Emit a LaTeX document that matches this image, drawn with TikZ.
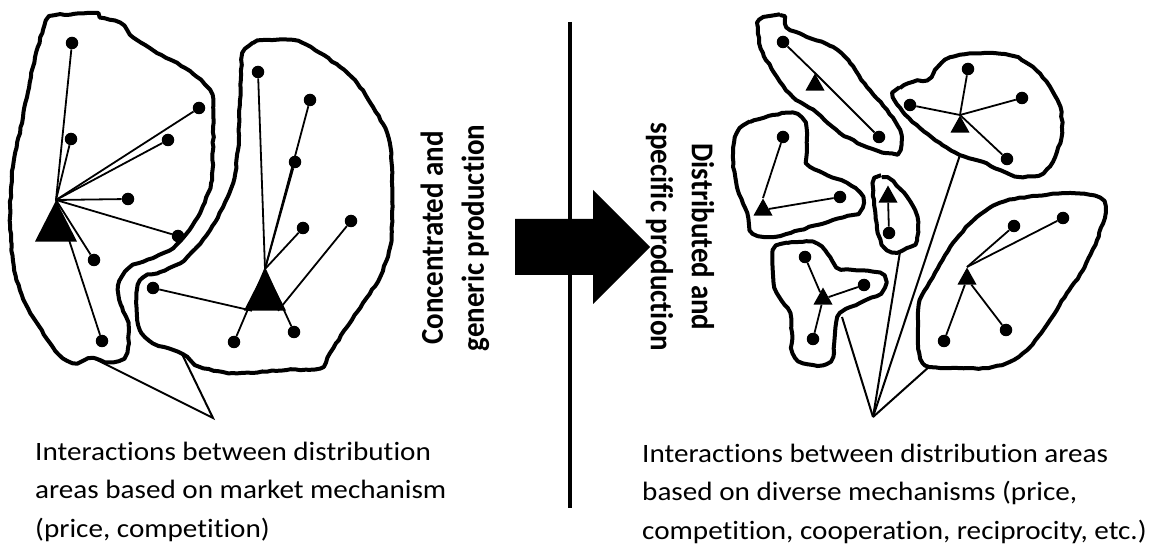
\documentclass[tikz,border=0pt]{standalone}
\usepackage{fontspec}
\setmainfont{Carlito}[FakeStretch=1.1, Ligatures=NoCommon]
\newfontfamily\vertfont{Carlito}[FakeStretch=0.91, Ligatures=NoCommon]
\usetikzlibrary{shapes.geometric, decorations.pathmorphing}

\begin{document}
\begin{tikzpicture}[
  x=1pt, y=-1pt,
  area/.style={line width=4pt, line join=round, decorate, decoration={random steps, segment length=5pt, amplitude=0.6pt}},
  dotnode/.style={circle, fill, inner sep=0pt, minimum size=12.5pt},
  bigtri/.style={isosceles triangle, isosceles triangle stretches, shape border rotate=90, fill, inner sep=0pt, minimum width=42pt, minimum height=41pt, anchor=apex},
  smalltri/.style={bigtri, minimum width=19pt, minimum height=17pt},
  link/.style={line width=1.8pt},
  fan/.style={line width=2pt, line join=miter},
  caption/.style={font=\fontsize{26.5}{38.5}\selectfont, align=left, anchor=base west, inner sep=0pt},
  vlbl/.style={font=\vertfont\bfseries\fontsize{31.8}{41}\selectfont, align=center, inner sep=0pt}
]
\useasboundingbox (0,0) rectangle (1163,548);
\pgfmathsetseed{7}

% left side: two market areas
\draw[area] plot[smooth cycle] coordinates {(50,17) (73,14) (93,13) (100,17) (120,23) (133,37) (157,53) (177,63) (197,77) (210,90) (213,107) (213,150) (211,183) (200,213) (187,233) (173,248) (153,258) (133,265) (122,277) (118,290) (122,307) (128,323) (128,347) (123,358) (110,362) (93,358) (77,363) (63,358) (50,343) (33,317) (20,290) (13,260) (10,217) (13,167) (23,117) (33,67) (43,30)};
\draw[area] plot[smooth cycle] coordinates {(243,53) (253,43) (267,40) (293,40) (307,45) (320,53) (340,67) (357,83) (373,107) (387,133) (392,167) (392,217) (390,247) (380,277) (363,303) (347,327) (330,353) (320,368) (287,370) (233,373) (200,367) (187,357) (173,350) (153,343) (140,330) (137,313) (137,290) (143,278) (160,272) (180,263) (197,247) (210,230) (223,207) (233,183) (238,150) (240,100) (241,70)};

\node[bigtri] (tL) at (56,200) {};
\node[dotnode] (l1) at (72,43) {};
\node[dotnode] (l2) at (71,139) {};
\node[dotnode] (l3) at (199,108) {};
\node[dotnode] (l4) at (168,140) {};
\node[dotnode] (l5) at (128,199) {};
\node[dotnode] (l6) at (178,236) {};
\node[dotnode] (l7) at (94,260) {};
\node[dotnode] (l8) at (102,341) {};
\foreach \d in {l1,l2,l3,l4,l5,l6,l7,l8}
  \draw[link] (tL.apex) -- (\d);

\node[bigtri] (tR) at (265,269) {};
\node[dotnode] (r1) at (258,72) {};
\node[dotnode] (r2) at (310,100) {};
\node[dotnode] (r3) at (295,162) {};
\node[dotnode] (r4) at (303,228) {};
\node[dotnode] (r5) at (351,221) {};
\node[dotnode] (r6) at (153,288) {};
\node[dotnode] (r7) at (234,342) {};
\node[dotnode] (r8) at (294,332) {};
\foreach \d in {r1,r2,r3,r4,r7,r8}
  \draw[link] (tR.apex) -- (\d);
\draw[link] (tR.south east) -- (r5);
\draw[link] (tR.south west) -- (r6);

\coordinate (ptip) at (213,418);
\coordinate (pa) at (93,358);
\coordinate (pb) at (182,354);
\draw[fan] (pa) -- (ptip) -- (pb);

\node[caption] (capL) at (35,537) {Interactions between distribution\\areas based on market mechanism\\(price, competition)};
\node[vlbl, rotate=90] (conc) at (455,238) {Concentrated and\\generic production};

% divider and arrow
\draw[line width=4.5pt] (570,22) -- (570,508);
\fill (515,219) -- (593,219) -- (593,190) -- (650,247) -- (593,304) -- (593,275) -- (515,275) -- cycle;

% right side: several specific areas
\draw[area] plot[smooth cycle] coordinates {(760,20) (780,15) (787,27) (807,37) (833,47) (850,63) (867,87) (887,110) (900,130) (900,150) (887,153) (867,147) (840,133) (817,113) (793,97) (777,77) (763,53) (758,33)};
\draw[area] plot[smooth cycle] coordinates {(893,97) (900,88) (913,82) (927,80) (935,70) (945,60) (960,55) (985,53) (1013,56) (1033,67) (1050,87) (1060,107) (1062,133) (1055,157) (1043,173) (1020,177) (1000,170) (983,162) (960,155) (940,143) (920,128) (903,112)};
\draw[area] plot[smooth cycle] coordinates {(737,133) (750,122) (773,115) (793,113) (805,123) (807,147) (807,163) (823,173) (847,183) (860,193) (863,203) (857,213) (833,220) (800,230) (773,237) (753,233) (747,213) (737,187) (733,157)};
\draw[area] plot[smooth cycle] coordinates {(873,183) (882,177) (893,182) (907,197) (917,217) (917,240) (907,248) (897,252) (885,248) (878,233) (875,210)};
\draw[area] plot[smooth cycle] coordinates {(773,250) (787,243) (813,242) (827,253) (837,267) (853,270) (880,273) (885,283) (880,293) (860,303) (840,313) (835,333) (833,357) (823,365) (803,363) (793,353) (792,333) (790,313) (777,293) (773,273)};
\draw[area] plot[smooth cycle] coordinates {(920,300) (933,277) (953,243) (977,217) (1000,203) (1027,197) (1070,193) (1100,198) (1105,213) (1097,240) (1083,270) (1067,293) (1050,320) (1030,347) (1007,363) (983,368) (940,368) (923,363) (918,343) (918,320)};

\node[smalltri] (tA) at (815,73) {};
\node[dotnode] (a1) at (783,42) {};
\node[dotnode] (a2) at (879,137) {};
\draw[link] (a1) -- (tA.apex) -- (a2);

\node[smalltri] (tB) at (960,115) {};
\node[dotnode] (b1) at (968,69) {};
\node[dotnode] (b2) at (1022,98) {};
\node[dotnode] (b3) at (910,105) {};
\node[dotnode] (b4) at (1007,159) {};
\foreach \d in {b1,b2,b3,b4}
  \draw[link] (tB.apex) -- (\d);

\node[smalltri] (tC) at (763,198) {};
\node[dotnode] (c1) at (783,137) {};
\node[dotnode] (c2) at (840,197) {};
\draw[link] (tC.apex) -- (c1);
\draw[link] (tC) -- (c2);

\node[smalltri] (tD) at (888,185) {};
\node[dotnode] (d1) at (889,233) {};
\draw[link] (tD) -- (d1);

\node[smalltri] (tE) at (823,287) {};
\node[dotnode] (e1) at (805,257) {};
\node[dotnode] (e2) at (864,285) {};
\node[dotnode] (e3) at (813,339) {};
\foreach \d in {e1,e2,e3}
  \draw[link] (tE) -- (\d);

\node[smalltri] (tF) at (967,267) {};
\node[dotnode] (f1) at (1014,226) {};
\node[dotnode] (f2) at (1063,218) {};
\node[dotnode] (f3) at (1006,330) {};
\node[dotnode] (f4) at (944,341) {};
\draw[link] (tF.apex) -- (f1);
\draw[link] (tF.apex) -- (f2);
\draw[link] (tF) -- (f3);
\draw[link] (tF) -- (f4);

\coordinate (ftip) at (873,417);
\coordinate (fe) at (842,317);
\coordinate (fd) at (900,252);
\coordinate (fb) at (960,155);
\coordinate (ff) at (930,366);
\foreach \c in {fe,fd,fb,ff}
  \draw[fan] (ftip) -- (\c);

\node[vlbl, rotate=-90] (dist) at (680,237) {Distributed and\\specific production};
\node[caption] (capR) at (642,539) {Interactions between distribution areas\\based on diverse mechanisms (price,\\competition, cooperation, reciprocity, etc.)};
\end{tikzpicture}
\end{document}
